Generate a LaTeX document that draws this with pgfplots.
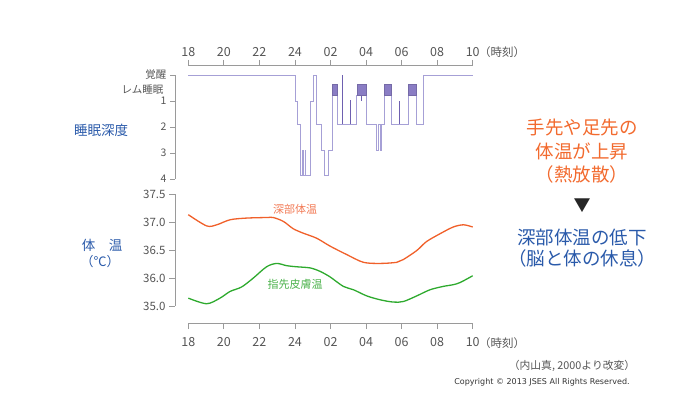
\documentclass[border=0pt]{standalone}
\usepackage{pgfplots}
\pgfplotsset{compat=1.18}
\usepackage{fontspec}
\setmainfont{Noto Sans CJK JP}
\newfontfamily\verdana{DejaVu Sans}
\definecolor{axgray}{HTML}{9A9A9A}
\definecolor{txtgray}{HTML}{555555}
\definecolor{hypline}{HTML}{A6A0D6}
\definecolor{remfill}{HTML}{8A7DC4}
\definecolor{spike}{HTML}{6E60B0}
\definecolor{coreor}{HTML}{F0602A}
\definecolor{corelab}{HTML}{F27A55}
\definecolor{skingr}{HTML}{2EAA2E}
\definecolor{skinlab}{HTML}{4CB24C}
\definecolor{jblue}{HTML}{2A5AAA}
\definecolor{jorange}{HTML}{F26A2E}
\begin{document}
\begin{tikzpicture}[x=1pt,y=1pt]
\useasboundingbox (0,0) rectangle (700,394);
% ---------------- hypnogram ----------------
\begin{axis}[
 at={(175pt,215pt)}, anchor=south west, scale only axis,
 width=297.7pt, height=114pt,
 xmin=-0.75, xmax=16, ymin=-0.385, ymax=4, y dir=reverse,
 axis x line*=top, axis y line*=left, axis line style={draw=none},
 tick align=outside, major tick length=5pt,
 tick style={axgray, line width=0.8pt},
 xtick={0,2,...,16}, xticklabels={18,20,22,24,02,04,06,08,10},
 ytick={0,1,2,3,4}, yticklabels={覚醒,1,2,3,4},
 xticklabel style={font=\fontsize{12.5}{14}\selectfont, text=txtgray, inner xsep=1pt},
 yticklabel style={font=\fontsize{10.5}{12}\selectfont, text=txtgray},
 clip=false,
]
\addplot[const plot, hypline, line width=0.8pt] coordinates {
 (0,0) (6.04,1.0) (6.14,1.9) (6.32,3.87) (6.44,2.9) (6.45,3.87)
 (6.57,2.9) (6.58,3.87) (6.85,1.0) (7.04,0) (7.22,1.9) (7.51,2.9)
 (7.65,3.87) (7.88,2.9) (8.11,0.77) (8.39,1.9) (9.48,0.77) (10.0,1.9)
 (10.56,2.9) (10.69,1.9) (10.80,2.9) (10.85,1.9) (11.03,0.77) (11.44,1.9)
 (12.36,0.77) (12.81,1.9) (13.23,0) (16,0)};
\addplot[spike, line width=0.8pt] coordinates {(8.69,1.9) (8.69,0)};
\addplot[spike, line width=0.8pt] coordinates {(9.14,1.9) (9.14,0.95)};
\addplot[spike, line width=0.8pt] coordinates {(9.72,0.77) (9.72,1.0)};
\addplot[spike, line width=0.8pt] coordinates {(11.88,1.9) (11.88,1.0)};
\addplot[draw=remfill!85!black, fill=remfill, line width=0.6pt] coordinates {(8.11,0.77) (8.11,0.35) (8.39,0.35) (8.39,0.77)} -- cycle;
\addplot[draw=remfill!85!black, fill=remfill, line width=0.6pt] coordinates {(9.48,0.77) (9.48,0.35) (10.0,0.35) (10.0,0.77)} -- cycle;
\addplot[draw=remfill!85!black, fill=remfill, line width=0.6pt] coordinates {(11.03,0.77) (11.03,0.35) (11.44,0.35) (11.44,0.77)} -- cycle;
\addplot[draw=remfill!85!black, fill=remfill, line width=0.6pt] coordinates {(12.36,0.77) (12.36,0.35) (12.81,0.35) (12.81,0.77)} -- cycle;
\draw[axgray, line width=0.8pt] (axis cs:0,-0.385) -- (axis cs:16,-0.385);
\draw[axgray, line width=0.8pt] (axis cs:-0.75,0) -- (axis cs:-0.75,4);
\node[anchor=east, font=\fontsize{10.5}{12}\selectfont, text=txtgray] at (axis cs:-0.75,0.55) [xshift=-8pt] {レム睡眠};
\end{axis}
% ---------------- temperatures ----------------
\begin{axis}[
 at={(175pt,71pt)}, anchor=south west, scale only axis,
 width=297.7pt, height=129pt,
 xmin=-0.75, xmax=16, ymin=35.196, ymax=37.5,
 axis x line*=bottom, axis y line*=left, axis line style={draw=none},
 tick align=outside, major tick length=6pt,
 tick style={axgray, line width=0.8pt},
 xtick={0,2,...,16}, xticklabels={18,20,22,24,02,04,06,08,10},
 ytick={35.5,36,36.5,37,37.5}, yticklabels={35.0,36.0,36.5,37.0,37.5},
 xticklabel style={font=\fontsize{12.5}{14}\selectfont, text=txtgray, yshift=-5pt, inner xsep=1pt},
 yticklabel style={font=\fontsize{11.5}{13}\selectfont, text=txtgray},
 clip=false,
]
\addplot[smooth, coreor, line width=1.3pt] coordinates {
 (0,37.13) (1.03,36.93) (1.6,36.95) (2.35,37.04) (3.28,37.07) (4.4,37.08)
 (4.78,37.08) (5.35,37.01) (5.9,36.88) (6.47,36.80) (7.22,36.71) (7.97,36.57)
 (8.9,36.42) (9.85,36.28) (10.8,36.26) (11.73,36.28) (12.1,36.33) (12.85,36.49)
 (13.4,36.65) (14.16,36.79) (14.9,36.91) (15.48,36.95) (16,36.91)};
\addplot[smooth, skingr, line width=1.3pt] coordinates {
 (0,35.64) (1.03,35.54) (1.78,35.64) (2.35,35.76) (3.0,35.84) (3.66,36.0)
 (4.4,36.2) (4.97,36.26) (5.53,36.22) (6.1,36.2) (6.85,36.18) (7.4,36.12)
 (7.97,36.02) (8.72,35.85) (9.29,35.79) (10.04,35.68) (10.8,35.61) (11.53,35.57)
 (12.1,35.58) (12.85,35.68) (13.6,35.79) (14.35,35.85) (14.9,35.88) (15.3,35.92)
 (16,36.04)};
\draw[axgray, line width=0.8pt] (axis cs:0,35.196) -- (axis cs:16,35.196);
\draw[axgray, line width=0.8pt] (axis cs:-0.75,35.5) -- (axis cs:-0.75,37.5);
\end{axis}
% ---------------- texts ----------------
\node[anchor=west, inner sep=0pt, font=\fontsize{11.5}{13}\selectfont, text=txtgray] at (482,342) {\kern-3pt（時刻）};
\node[anchor=west, inner sep=0pt, font=\fontsize{11.5}{13}\selectfont, text=txtgray] at (482,51) {\kern-3pt（時刻）};
\node[font=\fontsize{13.5}{16}\selectfont, text=jblue] at (101,264) {睡眠深度};
\node[font=\fontsize{13.5}{16}\selectfont, text=jblue] at (102,149) {体　温};
\node[font=\fontsize{13}{15}\selectfont, text=jblue] at (100,132) {（℃）};
\node[font=\fontsize{11}{13}\selectfont, text=corelab] at (295,185) {深部体温};
\node[font=\fontsize{11}{13}\selectfont, text=skinlab] at (295,110) {指先皮膚温};
\node[font=\fontsize{18.5}{23.5}\selectfont, text=jorange, align=center] at (582,242.5) {手先や足先の\\体温が上昇\\（熱放散）};
\node[font=\fontsize{17}{20}\selectfont, text=black!85] at (582,188) {▼};
\node[font=\fontsize{18.5}{20.5}\selectfont, text=jblue, align=center] at (582,146) {深部体温の低下\\（脳と体の休息）};
\node[font=\fontsize{10.8}{12}\selectfont, text=txtgray] at (572,28) {（内山真, 2000より改変）};
\node[font=\verdana\fontsize{8}{9}\selectfont, text=black!80] at (542,12) {Copyright © 2013 JSES All Rights Reserved.};
\end{tikzpicture}
\end{document}
